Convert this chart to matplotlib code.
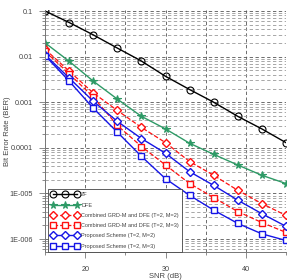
import matplotlib
matplotlib.use("Agg")
import matplotlib.pyplot as plt
import numpy as np

plt.rcParams['font.family'] = ['Liberation Sans', 'DejaVu Sans']

snr = [15, 18, 21, 24, 27, 30, 33, 36, 39, 42, 45]

# BER curves
ber_zf = [0.1, 0.056, 0.03, 0.0154, 0.008, 0.0037, 0.0019, 0.001, 4.9e-4, 2.6e-4, 1.3e-4]
ber_dfe = [0.02, 0.0079, 0.0029, 0.00117, 4.9e-4, 2.6e-4, 1.26e-4, 7.2e-5, 4.2e-5, 2.5e-5, 1.65e-5]
ber_grd_m2 = [0.0145, 0.0048, 0.0016, 6.6e-4, 2.8e-4, 1.3e-4, 5.0e-5, 2.5e-5, 1.17e-5, 6.0e-6, 3.3e-6]
ber_grd_m3 = [0.013, 0.0042, 0.0013, 3.1e-4, 1.07e-4, 4.2e-5, 1.65e-5, 8.1e-6, 4.0e-6, 2.3e-6, 1.4e-6]
ber_prop_m2 = [0.011, 0.0034, 0.00105, 3.8e-4, 1.6e-4, 7.6e-5, 3.0e-5, 1.5e-5, 7.1e-6, 3.6e-6, 1.9e-6]
ber_prop_m3 = [0.0105, 0.0029, 0.00074, 2.2e-4, 6.5e-5, 2.1e-5, 9.1e-6, 4.3e-6, 2.2e-6, 1.3e-6, 9.3e-7]

labels = ["ZF", "DFE",
          "Combined GRD-M and DFE (T=2, M=2)",
          "Combined GRD-M and DFE (T=2, M=3)",
          "Proposed Scheme (T=2, M=2)",
          "Proposed Scheme (T=2, M=3)"]

fig = plt.figure(figsize=(2.93, 2.80), dpi=100)
ax = fig.add_axes([0.154, 0.10, 0.822, 0.864])

ms = 4.5
mew = 1.0
ax.plot(snr, ber_zf, "-o", color="black", lw=1.0, ms=ms + 0.5, mfc="none", mew=0.8, label=labels[0])
ax.plot(snr, ber_dfe, "-*", color="#2e9a66", lw=1.0, ms=ms + 1, mew=0.8, label=labels[1])
ax.plot(snr, ber_grd_m2, "--D", color="#ff1010", lw=0.9, ms=ms - 0.8, mfc="white", mew=mew, label=labels[2])
ax.plot(snr, ber_grd_m3, "--s", color="#ff1010", lw=0.9, ms=ms, mfc="white", mew=mew, label=labels[3])
ax.plot(snr, ber_prop_m2, "-D", color="#1515e6", lw=1.0, ms=ms - 0.8, mfc="white", mew=mew, label=labels[4])
ax.plot(snr, ber_prop_m3, "-s", color="#1515e6", lw=1.0, ms=ms, mfc="white", mew=mew, label=labels[5])

ax.set_yscale("log")
ax.set_xlim(15, 45)
ax.set_ylim(5.2e-7, 0.105)

ax.set_xticks([20, 30, 40])
ax.set_xticks([15, 25, 35, 45], minor=True)
ax.set_yticks([0.1, 0.01, 0.001, 0.0001, 1e-5, 1e-6])
ax.set_yticklabels(["0.1", "0.01", "0.001", "0.0001", "1E-005", "1E-006"])

ax.grid(True, which="major", ls=(0, (4, 3)), color="#555555", lw=0.6)
ax.grid(True, which="minor", axis="y", ls=(0, (4, 3)), color="#999999", lw=0.6)
ax.grid(True, which="minor", axis="x", ls=(0, (4, 3)), color="#555555", lw=0.6)

for s in ["top", "right"]:
    ax.spines[s].set_visible(False)
for s in ["left", "bottom"]:
    ax.spines[s].set_color("#777777")
    ax.spines[s].set_linewidth(0.7)

ax.tick_params(which="both", colors="#777777", labelcolor="#444444", labelsize=5.2, width=0.6)
ax.tick_params(which="major", length=4)
ax.tick_params(which="minor", length=2.5)
ax.tick_params(axis="y", which="major", pad=5)
ax.tick_params(axis="x", which="major", pad=6)

ax.set_xlabel("SNR (dB)", fontsize=5.5, color="#444444", labelpad=0)
ax.set_ylabel("Bit Error Rate (BER)", fontsize=5.5, color="#444444")
ax.yaxis.set_label_coords(-0.14, 0.5)

leg = ax.legend(loc="lower left", bbox_to_anchor=(0.012, 0.0), borderaxespad=0,
                fontsize=4.0, numpoints=3, handlelength=4.9, labelspacing=0.95,
                frameon=True, fancybox=False, framealpha=1,
                edgecolor="#444444", borderpad=0.6, handletextpad=0.5)
leg.get_frame().set_linewidth(0.6)
for t in leg.get_texts():
    t.set_color("#444444")

fig.savefig("out.png", dpi=100)
